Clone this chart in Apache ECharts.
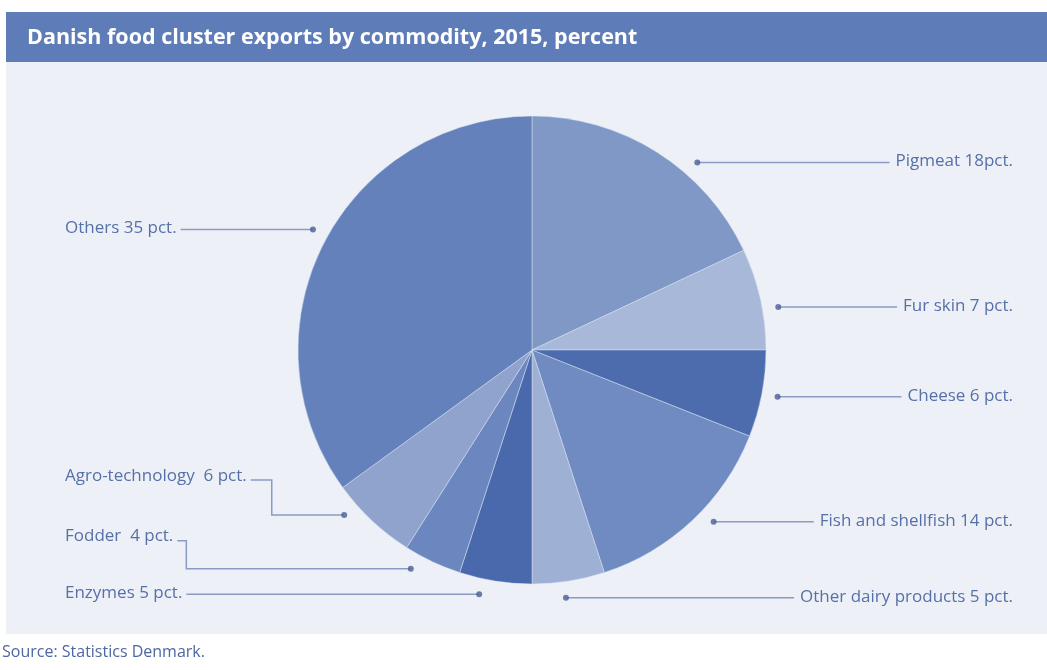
<!DOCTYPE html>
<html>
<head>
<meta charset="utf-8">
<script src="https://cdn.jsdelivr.net/npm/echarts@6/dist/echarts.min.js"></script>
<style>
html,body{margin:0;padding:0;background:#ffffff;}
#chart{width:1047px;height:670px;}
</style>
</head>
<body>
<div id="chart"></div>
<script>
// ---- data ----
const titleText = 'Danish food cluster exports by commodity, 2015, percent';
const sourceText = 'Source: Statistics Denmark.';
const categories = ['Pigmeat', 'Fur skin', 'Cheese', 'Fish and shellfish', 'Other dairy products', 'Enzymes', 'Fodder', 'Agro-technology', 'Others'];
const values = [18, 7, 6, 14, 5, 5, 4, 6, 35];
const labelTexts = ['Pigmeat 18pct.', 'Fur skin 7 pct.', 'Cheese 6 pct.', 'Fish and shellfish 14 pct.', 'Other dairy products 5 pct.', 'Enzymes 5 pct.', 'Fodder  4 pct.', 'Agro-technology  6 pct.', 'Others 35 pct.'];

// ---- style / layout ----
const sliceColors = ['#7f98c6', '#a7b8d8', '#4c6cae', '#6f8bc2', '#9eb0d4', '#4a69ad', '#6c87bf', '#8fa3cd', '#6581bb'];
const dotShiftDeg = [9, 2.7, 0, -3.4, 1.2, 3.2, 3.8, 5.5, 1.8];
const elbowRise = [0, 0, 0, 0, 0, 0, 28, 35, 0];
const elbowJog = [0, 0, 0, 0, 0, 0, 9, 21, 0];
const CX = 532, CY = 350, R = 234, DOT_R = 250;
const RIGHT_EDGE = 1013, LEFT_EDGE = 65;
const FONT = "'Open Sans', sans-serif";
const LABEL_COLOR = '#5670a8';
const LINE_COLOR = '#8a9bc4';

const total = values.reduce((a, b) => a + b, 0);
const cumulative = [];
values.reduce((acc, v, i) => { cumulative[i] = acc + v / 2; return acc + v; }, 0);
const dotAngles = cumulative.map((c, i) => c + dotShiftDeg[i] / 360 * total);

function dotPoint(i) {
  const a = dotAngles[i] / total * Math.PI * 2;
  return [CX + DOT_R * Math.sin(a), CY - DOT_R * Math.cos(a)];
}

const chart = echarts.init(document.getElementById('chart'));
chart.setOption({
  animation: false,
  backgroundColor: '#ffffff',
  graphic: [
    { type: 'rect', z: -10, shape: { x: 6, y: 62, width: 1041, height: 572 }, style: { fill: '#edf0f7' } },
    { type: 'rect', z: -10, shape: { x: 6, y: 12, width: 1041, height: 50 }, style: { fill: '#5e7cb8' } },
    { type: 'text', z: 10, left: 27, top: 27, style: { text: titleText, fill: '#ffffff', font: "bold 21.5px 'Open Sans', sans-serif" } },
    { type: 'text', z: 10, left: 2, top: 644, style: { text: sourceText, fill: '#4d67a3', font: "16px 'Open Sans', sans-serif" } }
  ],
  polar: { center: [CX, CY], radius: DOT_R },
  angleAxis: { type: 'value', min: 0, max: total, startAngle: 90, clockwise: true,
    axisLine: { show: false }, axisTick: { show: false }, axisLabel: { show: false }, splitLine: { show: false } },
  radiusAxis: { type: 'value', min: 0, max: 1,
    axisLine: { show: false }, axisTick: { show: false }, axisLabel: { show: false }, splitLine: { show: false } },
  series: [
    {
      type: 'pie',
      center: [CX, CY],
      radius: R,
      startAngle: 90,
      clockwise: true,
      avoidLabelOverlap: false,
      data: categories.map((c, i) => ({ name: c, value: values[i], itemStyle: { color: sliceColors[i] } })),
      itemStyle: { borderColor: 'rgba(220,228,242,0.6)', borderWidth: 0.8 },
      emphasis: { disabled: true },
      label: {
        show: true,
        position: 'outside',
        formatter: p => labelTexts[p.dataIndex],
        color: LABEL_COLOR,
        fontSize: 17,
        fontFamily: FONT
      },
      labelLine: { show: true, length: 10, length2: 10, lineStyle: { color: LINE_COLOR, width: 1.5 } },
      labelLayout: function (params) {
        const i = params.dataIndex;
        const d = dotPoint(i);
        const w = params.labelRect.width;
        if (d[0] > CX) {
          return {
            x: RIGHT_EDGE, y: d[1] - 1, align: 'right', verticalAlign: 'middle',
            labelLinePoints: [[d[0], d[1]], [RIGHT_EDGE - w - 6, d[1]], [RIGHT_EDGE - w - 6, d[1]]]
          };
        }
        const ly = d[1] - elbowRise[i];
        const sx = LEFT_EDGE + w + 4;
        if (elbowRise[i] > 0) {
          return {
            x: LEFT_EDGE, y: ly - 4, align: 'left', verticalAlign: 'middle',
            labelLinePoints: [[sx, ly], [sx + elbowJog[i], ly], [sx + elbowJog[i], d[1]], [d[0], d[1]]]
          };
        }
        return {
          x: LEFT_EDGE, y: d[1] - 1, align: 'left', verticalAlign: 'middle',
          labelLinePoints: [[sx, d[1]], [d[0], d[1]], [d[0], d[1]]]
        };
      }
    },
    {
      type: 'scatter',
      coordinateSystem: 'polar',
      silent: true,
      symbol: 'circle',
      symbolSize: 6,
      itemStyle: { color: '#4a5f95' },
      data: dotAngles.map(a => [1, a]),
      z: 5
    }
  ]
});
</script>
</body>
</html>
